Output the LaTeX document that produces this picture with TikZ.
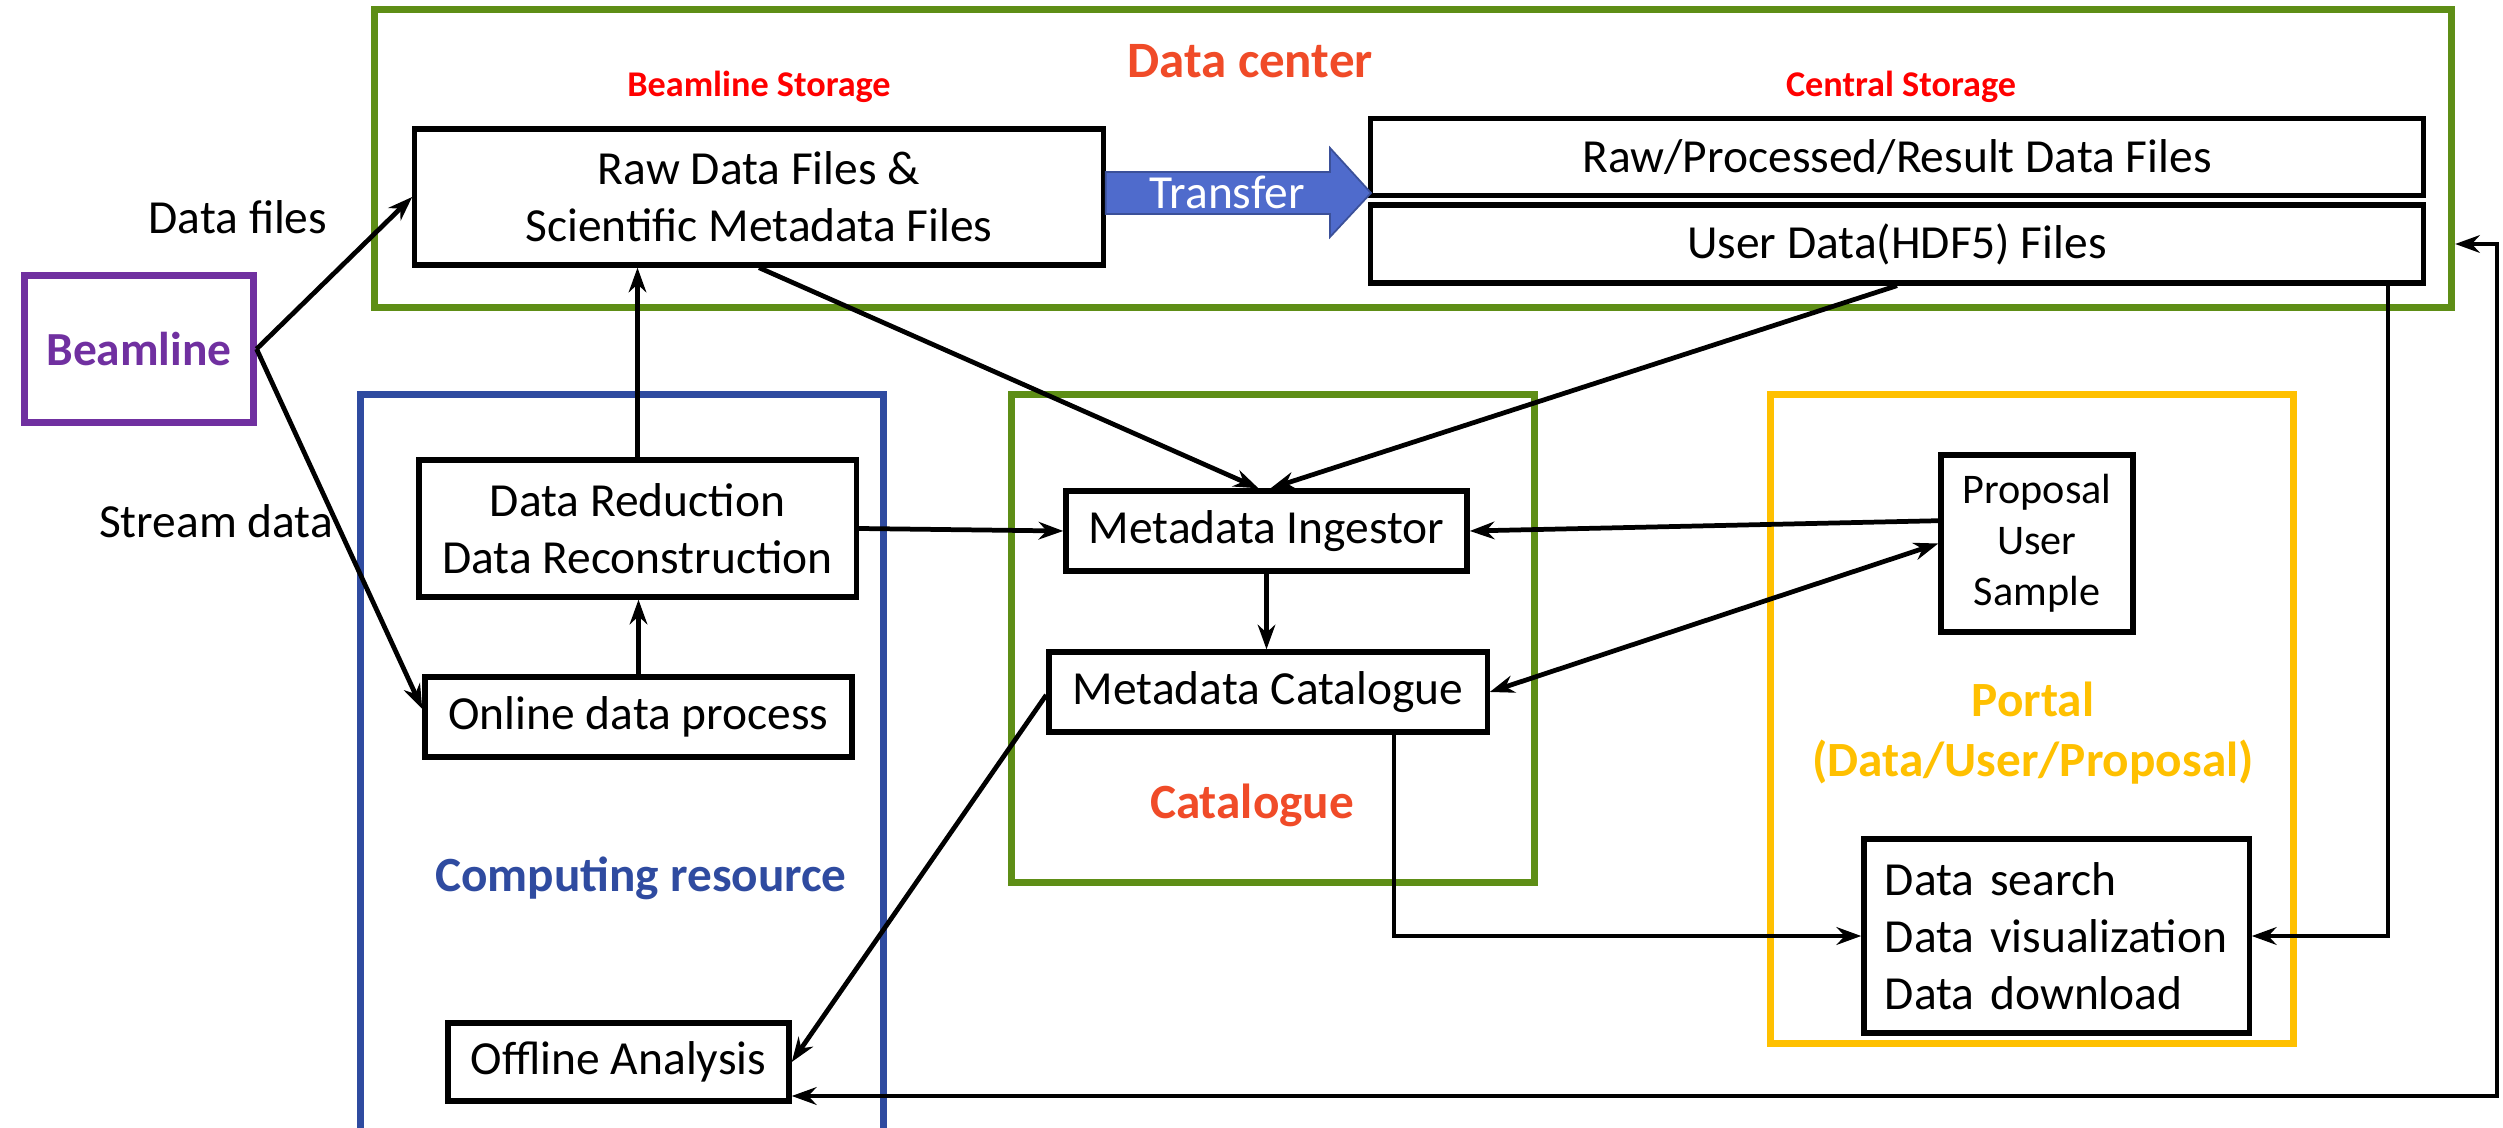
\documentclass[tikz,border=0pt]{standalone}
\usepackage{fontspec}
\setmainfont{Carlito}
\usetikzlibrary{arrows.meta,calc}

\definecolor{dcgreen}{RGB}{94,142,22}
\definecolor{titlered}{RGB}{240,75,40}
\definecolor{storred}{RGB}{255,0,0}
\definecolor{bpurple}{RGB}{112,48,160}
\definecolor{cblue}{RGB}{47,75,160}
\definecolor{pyellow}{RGB}{255,192,0}
\definecolor{tblue}{RGB}{79,107,204}

\begin{document}
\begin{tikzpicture}[x=0.01cm, y=-0.01cm, >={Stealth[length=7pt,width=5pt]}]

\tikzstyle{txt}=[font=\fontsize{13.5}{16.2}\selectfont]
\tikzstyle{box}=[draw, line width=1.5pt, fill=white, align=center, inner sep=0pt, txt]
\tikzstyle{group}=[draw, line width=2pt, inner sep=0pt]
\tikzstyle{title}=[font=\bfseries\fontsize{14}{17}\selectfont]
\tikzstyle{storage}=[text=storred, font=\bfseries\fontsize{10.3}{12}\selectfont]
\tikzstyle{conn}=[line width=1.35pt]

\useasboundingbox (0,0) rectangle (2503,1128);

% coloured groups
\node[group, draw=dcgreen, minimum width=20.76cm, minimum height=2.97cm] (dcenter) at (1413,158.5) {};
\node[group, draw=cblue, minimum width=5.22cm, minimum height=7.45cm] (computing) at (622,767.5) {};
\node[group, draw=dcgreen, minimum width=5.22cm, minimum height=4.87cm] (catalogue) at (1273,638.5) {};
\node[group, draw=pyellow, minimum width=5.22cm, minimum height=6.48cm] (portal) at (2032,719) {};

\node[title, text=titlered, font=\bfseries\fontsize{14.5}{17}\selectfont] (dctitle) at (1250,61) {Data center};
\node[storage] (bstorage) at (759,87) {Beamline Storage};
\node[storage] (cstorage) at (1901,87) {Central Storage};
\node[title, text=cblue] (comptitle) at (641,878) {Computing resource};
\node[title, text=titlered] (cattitle) at (1252,805) {Catalogue};
\node[title, text=pyellow, align=center] (portaltitle) at (2033,733) {Portal\\(Data/User/Proposal)};

% boxes
\node[group, draw=bpurple, text=bpurple, minimum width=2.28cm, minimum height=1.46cm,
      font=\bfseries\fontsize{13.5}{16}\selectfont] (beamline) at (139,349) {Beamline};
\node[box, minimum width=6.88cm, minimum height=1.36cm] (rawdata) at (759,197) {Raw Data Files \&\\Scientific Metadata Files};
\node[box, minimum width=10.52cm, minimum height=0.77cm] (central) at (1897,157) {Raw/Processed/Result Data Files};
\node[box, minimum width=10.52cm, minimum height=0.78cm] (userdata) at (1897,244) {User Data(HDF5) Files};
\node[box, minimum width=4.37cm, minimum height=1.37cm] (reduction) at (637.5,528.5) {Data Reduction\\Data Reconstruction};
\node[box, minimum width=4.27cm, minimum height=0.80cm] (online) at (638.5,717) {Online data process};
\node[box, minimum width=3.41cm, minimum height=0.78cm] (offline) at (618.5,1062) {Offline Analysis};
\node[box, minimum width=4.01cm, minimum height=0.80cm] (ingestor) at (1266.5,531) {Metadata Ingestor};
\node[box, minimum width=4.38cm, minimum height=0.80cm] (mcatalogue) at (1268,692) {Metadata Catalogue};
\node[box, minimum width=1.92cm, minimum height=1.77cm, font=\fontsize{12}{14.5}\selectfont] (proposal) at (2037,543.5) {Proposal\\User\\Sample};
\node[box, minimum width=3.85cm, minimum height=1.94cm, align=left, text width=3.43cm, inner xsep=0.21cm] (search) at (2056.5,936) {Data search\\Data visualization\\Data download};

% transfer arrow
\filldraw[fill=tblue, draw=tblue!75!black, line width=0.5pt] (rawdata.east |- 0,172) -- (1330,172) -- (1330,148)
  -- (1371,193) -- (1330,237) -- (1330,214) -- (rawdata.east |- 0,214) -- cycle;
\node[txt, text=white] (transfer) at (1227,192) {Transfer};

% connectors
\node[txt] (datafiles) at (238,217) {Data files};
\node[txt] (streamdata) at (216,521) {Stream data};
\draw[conn, ->] (beamline.east) -- (rawdata.west);
\draw[conn, ->] (beamline.east) -- ([yshift=0.08cm]online.west);
\draw[conn, ->] (online.north) -- (online.north |- reduction.south);
\draw[conn, ->] (reduction.north) -- (reduction.north |- rawdata.south);
\draw[conn, ->] (reduction.east) -- (ingestor.west);
\draw[conn, ->] (rawdata.south) -- ([xshift=-0.08cm]ingestor.north);
\draw[conn, ->] (userdata.south) -- ([xshift=0.04cm]ingestor.north);
\draw[conn, ->] (ingestor.south) -- (ingestor.south |- mcatalogue.north);
\draw[conn, ->] (proposal.167) -- (ingestor.east);
\draw[conn, <->] (mcatalogue.east) -- (proposal.west);
\draw[conn, ->] ($(mcatalogue.south)+(126,0)$) |- (search.west);
\draw[conn, ->] ([xshift=-0.38cm]userdata.south east) |- (search.east);
\draw[conn, ->] ([yshift=-0.03cm]mcatalogue.west) -- (offline.east);
\coordinate (loop) at (2497,1096);
\draw[conn, <->] (offline.east |- loop) -- (loop) |- (dcenter.east |- userdata.east);

\end{tikzpicture}
\end{document}
